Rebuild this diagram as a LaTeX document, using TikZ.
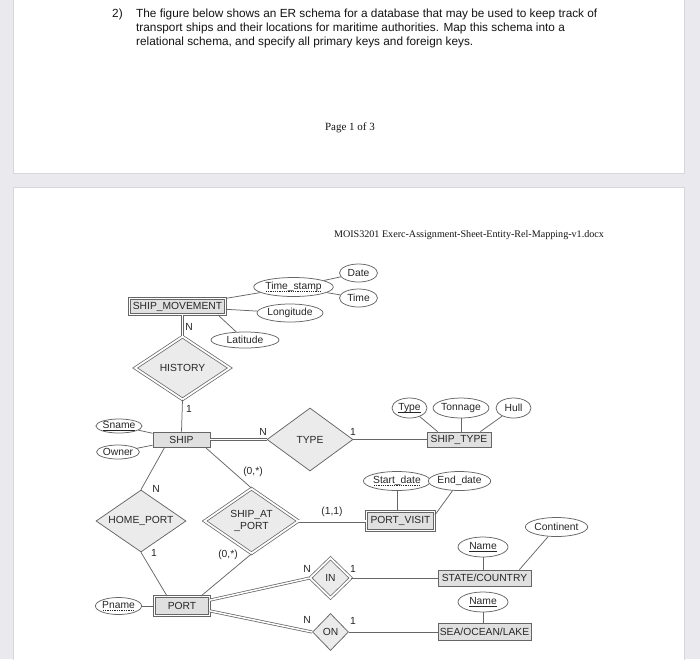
\documentclass[tikz,border=0pt]{standalone}
\usepackage{fontspec}
\usetikzlibrary{shapes.geometric}
\setmainfont{Liberation Sans}
\newfontfamily\docserif{Liberation Serif}
\definecolor{deskgray}{HTML}{E9E9EE}
\definecolor{pageedge}{HTML}{D6D6DC}
\definecolor{erline}{HTML}{666666}
\definecolor{entityfill}{HTML}{E0E0E0}
\definecolor{relfill}{HTML}{EBEBEB}
\definecolor{ertextc}{HTML}{262626}
\definecolor{doctext}{HTML}{141414}
\newcommand{\questiontext}{\fontsize{11.8}{14}\selectfont}
\newcommand{\footertext}{\docserif\fontsize{11}{12}\selectfont}
\newcommand{\headertext}{\docserif\fontsize{10.1}{11}\selectfont}
\newcommand{\ertext}{\fontsize{10.3}{12}\selectfont}
\newsavebox{\keybox}
\newcommand{\keyline}[1]{\sbox{\keybox}{#1}\rlap{\raisebox{-1.8pt}{\rule{\wd\keybox}{0.5pt}}}\usebox{\keybox}}
\newcommand{\partkeyline}[1]{\sbox{\keybox}{#1}\rlap{\raisebox{-1.8pt}{\hbox to \wd\keybox{\xleaders\hbox to 2.2pt{\hss\rule{1.2pt}{0.5pt}\hss}\hfill}}}\usebox{\keybox}}

\begin{document}
\begin{tikzpicture}[x=1pt,y=-1pt,font=\ertext,
  entity/.style={draw=erline,fill=entityfill,line width=0.75pt,inner sep=1pt,text=ertextc},
  weakentity/.style={entity,double,double distance=1.6pt},
  relation/.style={diamond,aspect=1.5,draw=erline,fill=relfill,line width=0.75pt,inner sep=0pt,text=ertextc,align=center},
  weakrelation/.style={relation,double,double distance=1.8pt},
  attr/.style={ellipse,draw=erline,fill=white,line width=0.75pt,inner sep=0pt,text=ertextc},
  card/.style={inner sep=0pt,text=ertextc},
  link/.style={draw=erline,line width=0.75pt},
  totallink/.style={link,double,double distance=1.5pt}]
\useasboundingbox (0,0) rectangle (700,659);
\fill[deskgray] (0,0) rectangle (700,659);
\filldraw[fill=white,draw=pageedge,line width=0.8pt] (13,-10) rectangle (684,173);
\filldraw[fill=white,draw=pageedge,line width=0.8pt] (13,187) rectangle (684,670);

% page 1: question
\node[anchor=north west,inner sep=0pt,text=doctext,font=\questiontext] (qnum) at (112,9) {2)};
\node[anchor=north west,inner sep=0pt,text=doctext,font=\questiontext,align=left] (question) at (136,9) {The figure below shows an ER schema for a database that may be used to keep track of\\transport ships and their locations for maritime authorities. Map this schema into a\\relational schema, and specify all primary keys and foreign keys.};
\node[inner sep=0pt,text=doctext,font=\footertext] (pagenum) at (350,128) {Page 1 of 3};

% page 2: header
\node[inner sep=0pt,text=doctext,font=\headertext] (header) at (469,235) {MOIS3201 Exerc-Assignment-Sheet-Entity-Rel-Mapping-v1.docx};

% entities
\node[weakentity,minimum width=96,minimum height=16] (smove) at (177.5,306.5) {SHIP\_MOVEMENT};
\node[entity,minimum width=57,minimum height=15] (ship) at (181.5,439.5) {SHIP};
\node[entity,minimum width=64,minimum height=15] (stype) at (459,439.5) {SHIP\_TYPE};
\node[weakentity,minimum width=68,minimum height=19] (pvisit) at (400.5,521) {PORT\_VISIT};
\node[weakentity,minimum width=55,minimum height=19] (port) at (182,606) {PORT};
\node[entity,minimum width=93,minimum height=16] (state) at (484.5,578) {STATE/COUNTRY};
\node[entity,minimum width=93,minimum height=17] (sea) at (484.5,632) {SEA/OCEAN/LAKE};

% relationships
\node[weakrelation,minimum width=95,minimum height=63] (history) at (182.5,368) {HISTORY};
\node[relation,minimum width=86,minimum height=63] (type) at (310,439.5) {TYPE};
\node[relation,minimum width=90,minimum height=62] (hport) at (141,521) {HOME\_PORT};
\node[weakrelation,minimum width=94,minimum height=65] (sap) at (251.5,521) {SHIP\_AT\\\_PORT};
\node[weakrelation,minimum width=41,minimum height=40] (in) at (330.5,578) {IN};
\node[relation,minimum width=36,minimum height=37] (on) at (330.5,632) {ON};

% attributes
\node[attr,minimum width=73,minimum height=19] (tstamp) at (293.5,287) {\partkeyline{Time\_stamp}};
\node[attr,minimum width=38,minimum height=18] (date) at (358.5,273) {Date};
\node[attr,minimum width=38,minimum height=18] (time) at (358.5,298) {Time};
\node[attr,minimum width=66,minimum height=18] (longi) at (290,313) {Longitude};
\node[attr,minimum width=68,minimum height=16] (lati) at (245,340) {Latitude};
\node[attr,minimum width=42,minimum height=14] (sname) at (119,426) {\keyline{Sname}};
\node[attr,minimum width=40,minimum height=14] (owner) at (118,452) {Owner};
\node[attr,minimum width=35,minimum height=20] (ttype) at (409.5,408) {\keyline{Type}};
\node[attr,minimum width=50,minimum height=20] (tonnage) at (461,408) {Tonnage};
\node[attr,minimum width=35,minimum height=20] (hull) at (513.5,408) {Hull};
\node[attr,minimum width=64,minimum height=19] (sdate) at (397,481) {\partkeyline{Start\_date}};
\node[attr,minimum width=49,minimum height=19] (edate) at (459.5,481) {End\_date};
\node[attr,minimum width=41,minimum height=17] (pname) at (118.5,606) {\partkeyline{Pname}};
\node[attr,minimum width=50,minimum height=20] (sname2) at (483,547) {\keyline{Name}};
\node[attr,minimum width=51,minimum height=19] (cont) at (556.5,527) {Continent};
\node[attr,minimum width=50,minimum height=20] (wname) at (483,602) {\keyline{Name}};

% connectors
\draw[link] (smove) -- (tstamp);
\draw[link] (tstamp) -- (date);
\draw[link] (tstamp) -- (time);
\draw[link] (smove) -- (longi);
\draw[link] ([xshift=-8pt]smove.south east) -- (lati);
\draw[totallink] (history.north) -- (history.north |- smove.south);
\draw[link] (history.south) -- (ship.north);
\draw[link] (sname) -- (ship);
\draw[link] (owner) -- (ship);
\draw[totallink] (ship.east) -- (type.west);
\draw[link] (type.east) -- (stype.west);
\draw[link] (ttype) -- ([xshift=11pt]stype.north west);
\draw[link] (tonnage.south) -- (tonnage.south |- stype.north);
\draw[link] (hull) -- ([xshift=-11pt]stype.north east);
\draw[link] ([xshift=12pt]ship.south west) -- (hport.north);
\draw[link] ([xshift=-5pt]ship.south east) -- (sap.north);
\draw[totallink] (sap.east) -- (pvisit.west);
\draw[link] (sdate.south) -- (sdate.south |- pvisit.north);
\draw[link] (edate) -- ([yshift=-4pt]pvisit.north east);
\draw[link] (hport.south) -- ([xshift=13pt]port.north west);
\draw[link] (sap.south) -- ([xshift=-9pt]port.north east);
\draw[link] (pname) -- (port);
\draw[totallink] ([yshift=-4pt]port.north east) -- (in.west);
\draw[totallink] ([yshift=5pt]port.south east) -- (on.west);
\draw[link] (in.east) -- (state.west);
\draw[link] (on.east) -- (sea.west);
\draw[link] (sname2.south) -- (sname2.south |- state.north);
\draw[link] (cont) -- ([xshift=-12pt]state.north east);
\draw[link] (wname.south) -- (wname.south |- sea.north);

% cardinalities
\node[card] (nhist) at (189,327) {N};
\node[card] (onehist) at (189,409) {1};
\node[card] (ntype) at (263,432) {N};
\node[card] (onetype) at (353,432) {1};
\node[card] (nhport) at (156,489) {N};
\node[card] (onehport) at (154,553) {1};
\node[card] (zsap) at (253,472) {(0,*)};
\node[card] (zsapb) at (228,555) {(0,*)};
\node[card] (oosap) at (332,512) {(1,1)};
\node[card] (nin) at (307,569) {N};
\node[card] (onein) at (353,569) {1};
\node[card] (non) at (307,620) {N};
\node[card] (oneon) at (353,621) {1};
\end{tikzpicture}
\end{document}
